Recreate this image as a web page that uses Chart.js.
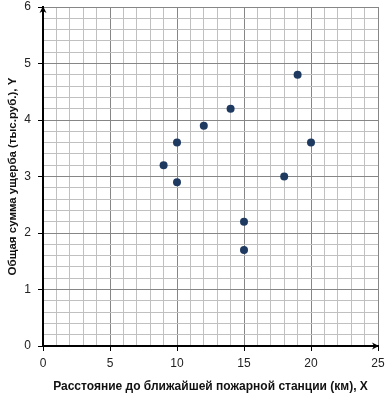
<!DOCTYPE html>
<html>
<head>
<meta charset="utf-8">
<script src="https://cdn.jsdelivr.net/npm/chart.js@4"></script>
<style>
  html, body { margin: 0; padding: 0; background: #fff; }
  #wrap { width: 385px; height: 395px; position: relative; }
</style>
</head>
<body>
<div id="wrap"><canvas id="chart"></canvas></div>
<script>
// data
const distanceKm = [9, 10, 10, 12, 14, 15, 15, 18, 19, 20];
const damageK = [3.2, 3.6, 2.9, 3.9, 4.2, 2.2, 1.7, 3.0, 4.8, 3.6];
const xTicks = [0, 5, 10, 15, 20, 25];
const yTicks = [0, 1, 2, 3, 4, 5, 6];
const xTitle = 'Расстояние до ближайшей пожарной станции (км), X';
const yTitle = 'Общая сумма ущерба (тыс.руб.), Y';

const points = distanceKm.map((x, i) => ({ x: x, y: damageK[i] }));

function isMajor(v, list) {
    return list.some(t => Math.abs(t - v) < 1e-6);
}

// arrowheads at the ends of both axes
const axisArrows = {
    id: 'axisArrows',
    afterDraw(chart) {
        const ctx = chart.ctx;
        const xs = chart.scales.x, ys = chart.scales.y;
        const x0 = xs.getPixelForValue(0), y0 = ys.getPixelForValue(0);
        ctx.save();
        ctx.fillStyle = '#000';
        ctx.beginPath();
        ctx.moveTo(x0, ys.top - 1);
        ctx.lineTo(x0 - 3.5, ys.top + 6);
        ctx.lineTo(x0, ys.top + 4);
        ctx.lineTo(x0 + 3.5, ys.top + 6);
        ctx.closePath();
        ctx.fill();
        ctx.beginPath();
        ctx.moveTo(xs.right + 1, y0);
        ctx.lineTo(xs.right - 6, y0 - 3.5);
        ctx.lineTo(xs.right - 4, y0);
        ctx.lineTo(xs.right - 6, y0 + 3.5);
        ctx.closePath();
        ctx.fill();
        ctx.restore();
    }
};

const tickFont = { family: 'Liberation Sans', size: 12 };

new Chart(document.getElementById('chart'), {
    type: 'scatter',
    data: {
        datasets: [{
            data: points,
            backgroundColor: '#1f3a60',
            borderWidth: 0,
            pointRadius: 4,
            pointHoverRadius: 4
        }]
    },
    options: {
        responsive: true,
        maintainAspectRatio: false,
        animation: false,
        layout: { padding: { top: 7, right: 7, left: 0, bottom: 0 } },
        plugins: {
            legend: { display: false },
            tooltip: { enabled: false }
        },
        scales: {
            x: {
                type: 'linear',
                min: 0,
                max: 25,
                afterFit: function(scale) {
                    scale.height = 49;
                    scale.paddingLeft = 0;
                    scale.paddingRight = 0;
                },
                ticks: {
                    stepSize: 1,
                    autoSkip: false,
                    maxRotation: 0,
                    padding: 5,
                    color: '#222',
                    font: tickFont,
                    callback: v => isMajor(v, xTicks) ? String(Math.round(v)) : ''
                },
                grid: {
                    color: c => isMajor(c.tick.value, xTicks) ? '#868686' : '#c0c0c0',
                    tickColor: c => isMajor(c.tick.value, xTicks) ? '#000' : 'rgba(0,0,0,0)',
                    tickLength: 5,
                    lineWidth: 1
                },
                border: { color: '#000', width: 2 },
                title: {
                    display: true,
                    text: xTitle,
                    color: '#111',
                    font: { family: 'Liberation Sans', size: 12, weight: 'bold' },
                    padding: { top: 0, bottom: 1 }
                }
            },
            y: {
                type: 'linear',
                min: 0,
                max: 6,
                afterFit: function(scale) {
                    scale.width = 43;
                    scale.paddingTop = 0;
                    scale.paddingBottom = 0;
                },
                ticks: {
                    stepSize: 0.2,
                    autoSkip: false,
                    padding: 7,
                    color: '#222',
                    font: tickFont,
                    callback: v => isMajor(v, yTicks) ? String(Math.round(v)) : ''
                },
                grid: {
                    color: c => isMajor(c.tick.value, yTicks) ? '#868686' : '#c0c0c0',
                    tickColor: c => isMajor(c.tick.value, yTicks) ? '#000' : 'rgba(0,0,0,0)',
                    tickLength: 5,
                    lineWidth: 1
                },
                border: { color: '#000', width: 2 },
                title: {
                    display: true,
                    text: yTitle,
                    color: '#111',
                    font: { family: 'Liberation Sans', size: 11.5, weight: 'bold' },
                    padding: { top: 6, bottom: 0 }
                }
            }
        }
    },
    plugins: [axisArrows]
});
</script>
</body>
</html>
